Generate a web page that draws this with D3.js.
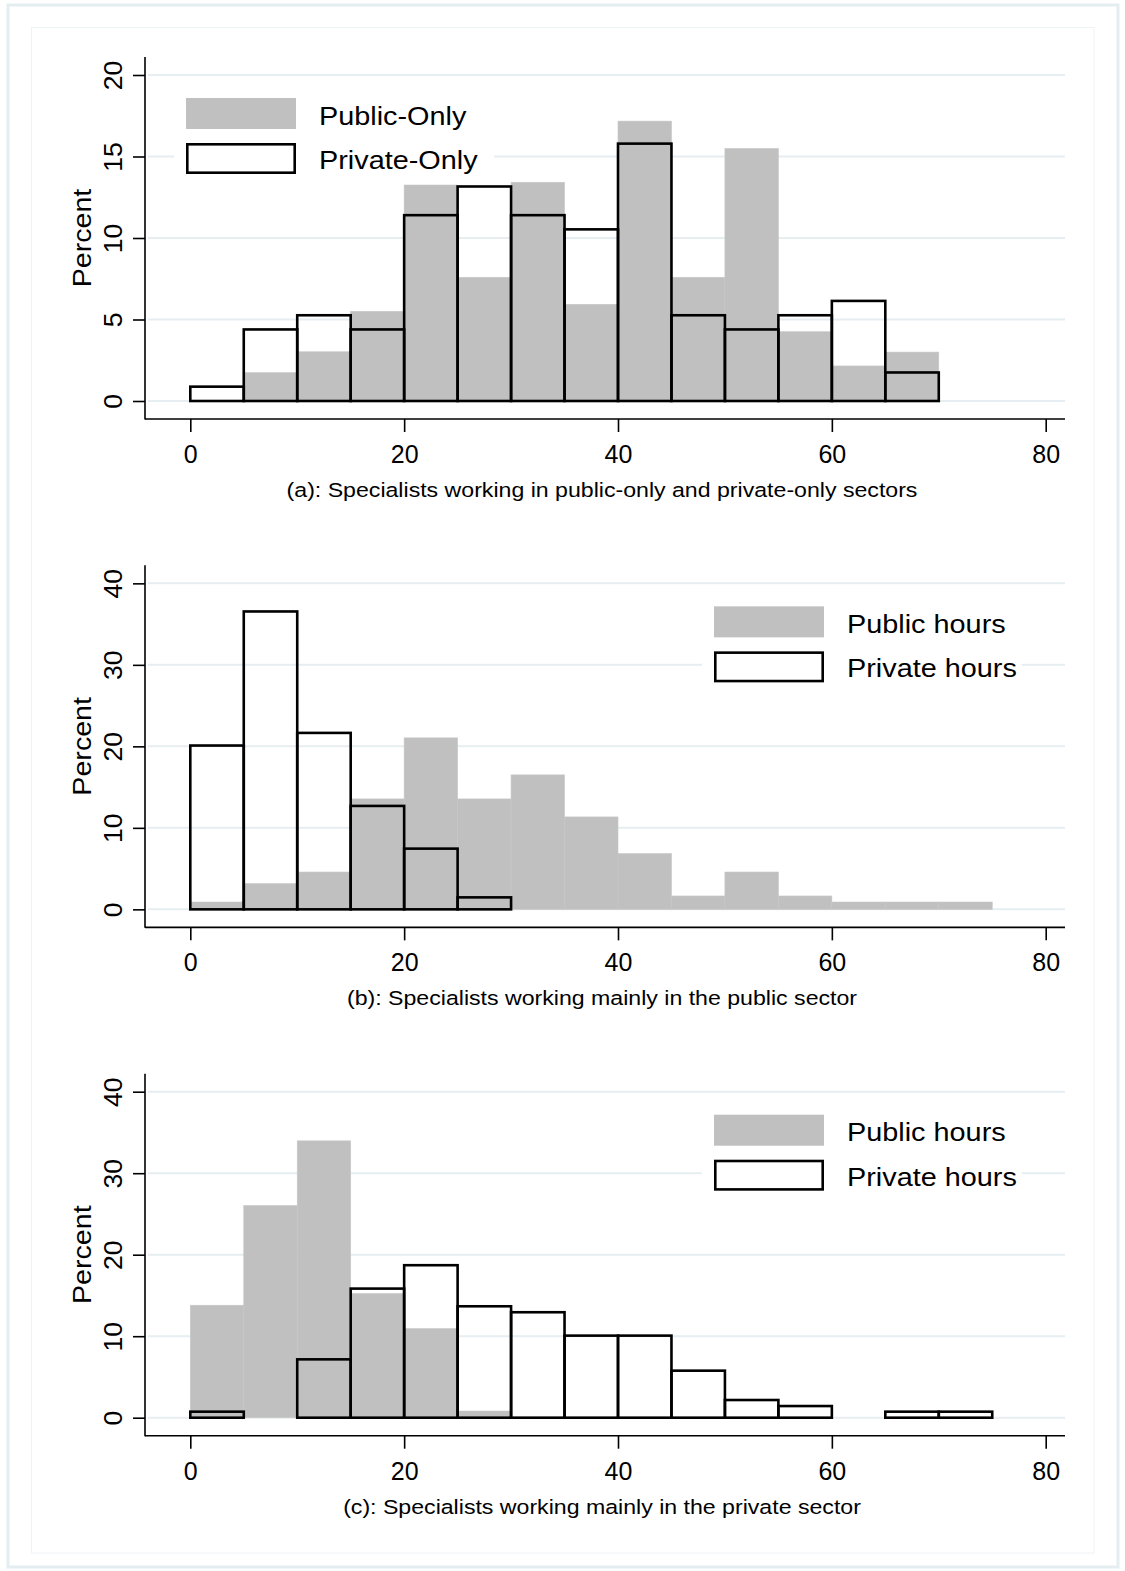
<!DOCTYPE html>
<meta charset="utf-8">
<script src="https://cdn.jsdelivr.net/npm/d3@7"></script>
<style>
  body { margin: 0; background: #fff; }
  svg text { font-family: "Liberation Sans", Arial, Helvetica, sans-serif; fill: #000; }
</style>
<div id="chart"></div>
<script>

// bins are 5 hours wide, starting at 0
var binWidth = 5;

// (a) public-only vs private-only
var aPublic  = [0, 1.74, 3.02, 5.50, 13.25, 7.59, 13.42, 5.93, 17.17, 7.59, 15.49, 4.25, 2.15, 3.00];
var aPrivate = [0.88, 4.39, 5.26, 4.39, 11.40, 13.16, 11.40, 10.53, 15.79, 5.26, 4.39, 5.26, 6.14, 1.75];

// (b) mainly public sector
var bPublic  = [0.9, 3.15, 4.58, 13.55, 21.04, 13.55, 16.5, 11.34, 6.84, 1.64, 4.58, 1.64, 0.9, 0.9, 0.9];
var bPrivate = [20.1, 36.55, 21.65, 12.69, 7.45, 1.47];

// (c) mainly private sector
var cPublic  = [13.8, 26.03, 33.97, 15.23, 10.93, 0.82];
var cPrivate = [0.74, 0, 7.16, 15.84, 18.71, 13.67, 12.94, 10.07, 10.07, 5.77, 2.17, 1.43, 0, 0.74, 0.74];

var xTicks = [0, 20, 40, 60, 80];
var yTicksA = [0, 5, 10, 15, 20];
var yTicksBC = [0, 10, 20, 30, 40];

var panels = [
  {pub: aPublic, priv: aPrivate, yTicks: yTicksA, ymax: 20,
   legend: ["Public-Only", "Private-Only"], legendX: 186,
   caption: "(a): Specialists working in public-only and private-only sectors"},
  {pub: bPublic, priv: bPrivate, yTicks: yTicksBC, ymax: 40,
   legend: ["Public hours", "Private hours"], legendX: 714,
   caption: "(b): Specialists working mainly in the public sector"},
  {pub: cPublic, priv: cPrivate, yTicks: yTicksBC, ymax: 40,
   legend: ["Public hours", "Private hours"], legendX: 714,
   caption: "(c): Specialists working mainly in the private sector"}
];

var W = 1125, H = 1571;
var gray = "#c0c0c0", gridCol = "#e6eef1";

var svg = d3.select("#chart").append("svg")
  .attr("width", W).attr("height", H);

svg.append("rect").attr("width", W).attr("height", H).attr("fill", "#fff");

// outer and inner frames
svg.append("rect")
  .attr("x", 8).attr("y", 5).attr("width", 1110).attr("height", 1562)
  .attr("fill", "none").attr("stroke", "#e4edf0").attr("stroke-width", 3);
svg.append("rect")
  .attr("x", 31.5).attr("y", 27.5).attr("width", 1062.5).attr("height", 1525.5)
  .attr("fill", "none").attr("stroke", "#eef3f5").attr("stroke-width", 1);

var axisLeftX = 145, axisRightX = 1065;
var step = 508.35;

var x = d3.scaleLinear().domain([0, 80]).range([190.3, 1045.7]);

// text helper: the original font is a bit wider than Liberation Sans
function label(g, tx, ty, str, size, sx, anchor, rot) {
  return g.append("text")
    .attr("transform", "translate(" + tx + "," + ty + ")" + (rot ? " rotate(" + rot + ")" : "") + " scale(" + sx + ",1)")
    .attr("text-anchor", anchor || "start")
    .style("font-size", size + "px")
    .text(str);
}

panels.forEach(function(p, i) {
  var off = i * step;
  var g = svg.append("g").attr("transform", "translate(0," + off + ")");

  var y = d3.scaleLinear().domain([0, p.ymax]).range([401, 75]);

  // gridlines
  g.selectAll(".grid")
    .data(p.yTicks)
    .enter().append("line")
      .attr("x1", 148).attr("x2", axisRightX)
      .attr("y1", function(d) { return y(d); })
      .attr("y2", function(d) { return y(d); })
      .attr("stroke", gridCol).attr("stroke-width", 2);

  // public bars (gray)
  var pubData = p.pub.map(function(v, k) { return {x0: k * binWidth, v: v}; })
    .filter(function(d) { return d.v > 0; });
  g.selectAll(".pub")
    .data(pubData)
    .enter().append("rect")
      .attr("x", function(d) { return x(d.x0); })
      .attr("width", function(d) { return x(d.x0 + binWidth) - x(d.x0); })
      .attr("y", function(d) { return y(d.v); })
      .attr("height", function(d) { return y(0) - y(d.v); })
      .attr("fill", gray)
      .attr("stroke", "#c6c6c6").attr("stroke-width", 0.6);

  // private bars (outline)
  var privData = p.priv.map(function(v, k) { return {x0: k * binWidth, v: v}; })
    .filter(function(d) { return d.v > 0; });
  g.selectAll(".priv")
    .data(privData)
    .enter().append("rect")
      .attr("x", function(d) { return x(d.x0); })
      .attr("width", function(d) { return x(d.x0 + binWidth) - x(d.x0); })
      .attr("y", function(d) { return y(d.v); })
      .attr("height", function(d) { return y(0) - y(d.v); })
      .attr("fill", "none")
      .attr("stroke", "#000").attr("stroke-width", 2.6);

  // axis lines
  g.append("line")
    .attr("x1", axisLeftX).attr("x2", axisLeftX).attr("y1", 57).attr("y2", 419.5)
    .attr("stroke", "#000").attr("stroke-width", 1.6);
  g.append("line")
    .attr("x1", axisLeftX).attr("x2", axisRightX).attr("y1", 419).attr("y2", 419)
    .attr("stroke", "#000").attr("stroke-width", 1.6);

  // x axis
  var xAxis = g.append("g")
    .attr("transform", "translate(0,419)")
    .call(d3.axisBottom(x).tickValues(xTicks).tickSize(13).tickPadding(0).tickFormat(d3.format("d")));
  xAxis.select(".domain").remove();
  xAxis.selectAll("line").attr("stroke", "#000").attr("stroke-width", 1.6);
  xAxis.selectAll("text")
    .attr("y", 44).attr("dy", 0)
    .style("font-size", "25px");

  // y axis with rotated labels
  var yAxis = g.append("g")
    .attr("transform", "translate(" + axisLeftX + ",0)")
    .call(d3.axisLeft(y).tickValues(p.yTicks).tickSize(12).tickFormat(d3.format("d")));
  yAxis.select(".domain").remove();
  yAxis.selectAll("line").attr("stroke", "#000").attr("stroke-width", 1.6);
  yAxis.selectAll("text")
    .attr("x", 0).attr("dy", 0)
    .attr("text-anchor", "middle")
    .attr("transform", "translate(-23,0) rotate(-90) scale(1.04,1)")
    .style("font-size", "25.5px");

  label(g, 91, 238, "Percent", 26.5, 1.08, "middle", -90);

  // caption
  label(g, 602, 497, p.caption, 20.5, 1.128, "middle");

  // legend
  var lx = p.legendX;
  g.append("rect")
    .attr("x", lx - 12).attr("y", 90).attr("width", 320).attr("height", 92)
    .attr("fill", "#fff");
  g.append("rect")
    .attr("x", lx).attr("y", 98).attr("width", 110).attr("height", 31)
    .attr("fill", gray);
  g.append("rect")
    .attr("x", lx + 1.3).attr("y", 144.3).attr("width", 107.4).attr("height", 28.4)
    .attr("fill", "none").attr("stroke", "#000").attr("stroke-width", 2.6);
  label(g, lx + 133, 124.5, p.legend[0], 26.5, 1.088);
  label(g, lx + 133, 169, p.legend[1], 26.5, 1.088);
});

</script>
